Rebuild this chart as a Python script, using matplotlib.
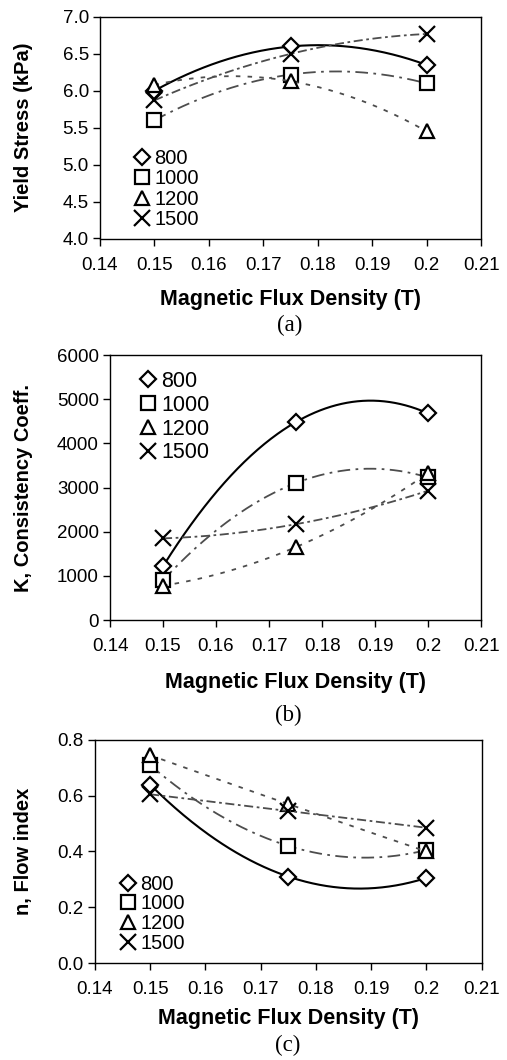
import numpy as np
import matplotlib
matplotlib.use("Agg")
import matplotlib.pyplot as plt
from matplotlib.lines import Line2D
from matplotlib.ticker import FuncFormatter, MultipleLocator

plt.rcParams['font.family'] = ['Liberation Sans', 'DejaVu Sans']

# magnetic flux density (T)
flux = [0.15, 0.175, 0.2]
series_names = ["800", "1000", "1200", "1500"]

# (a) yield stress (kPa)
yield_800 = [6.00, 6.60, 6.35]
yield_1000 = [5.60, 6.22, 6.10]
yield_1200 = [6.08, 6.13, 5.45]
yield_1500 = [5.87, 6.50, 6.77]

# (b) K, consistency coefficient
k_800 = [1220, 4480, 4680]
k_1000 = [900, 3100, 3230]
k_1200 = [780, 1650, 3330]
k_1500 = [1850, 2170, 2930]

# (c) n, flow index
n_800 = [0.64, 0.31, 0.305]
n_1000 = [0.71, 0.42, 0.405]
n_1200 = [0.745, 0.57, 0.40]
n_1500 = [0.605, 0.545, 0.485]

markers = ['D', 's', '^', 'x']
msizes = [8, 10, 10, 11]
lstyles = ['-', (0, (7, 3, 1.5, 3)), (0, (2.5, 4)), (0, (5, 2, 1.5, 2))]
lcolors = ['black', '0.3', '0.3', '0.3']
lwidths = [1.5, 1.3, 1.3, 1.3]


def draw_panel(ax, data, ylim, ystep, yfmt, ylabel, leg_pos, leg_size, leg_space,
               ylab_x, xlab_y):
    xs = np.linspace(flux[0], flux[-1], 200)
    for i, ys in enumerate(data):
        # excel style 2nd order polynomial trendline
        coef = np.polyfit(flux, ys, 2)
        ax.plot(xs, np.polyval(coef, xs), linestyle=lstyles[i], color=lcolors[i],
                lw=lwidths[i])
        ax.plot(flux, ys, linestyle='none', marker=markers[i], ms=msizes[i],
                mfc='white' if i < 3 else 'none', mec='black', mew=1.6)

    ax.set_xlim(0.14, 0.21)
    ax.set_ylim(*ylim)
    ax.xaxis.set_major_locator(MultipleLocator(0.01))
    ax.yaxis.set_major_locator(MultipleLocator(ystep))
    ax.xaxis.set_major_formatter(FuncFormatter(lambda v, p: f"{v:g}"))
    ax.yaxis.set_major_formatter(FuncFormatter(lambda v, p: yfmt.format(v)))
    ax.tick_params(direction='out', length=5, width=1, labelsize=13.5, pad=3)
    ax.tick_params(axis='x', pad=8)
    for s in ax.spines.values():
        s.set_linewidth(1.0)
    ax.set_xlabel("Magnetic Flux Density (T)", fontsize=15.5, fontweight='bold')
    ax.set_ylabel(ylabel, fontsize=14.5, fontweight='bold')
    ax.yaxis.set_label_coords(ylab_x, 0.5)
    ax.xaxis.set_label_coords(0.5, xlab_y)

    handles = [Line2D([], [], linestyle='none', marker=markers[i], ms=msizes[i],
                      mfc='none', mec='black', mew=1.6) for i in range(4)]
    ax.legend(handles, series_names, loc='upper left', bbox_to_anchor=leg_pos,
              frameon=False, fontsize=leg_size, handlelength=0.8,
              handletextpad=0.2, labelspacing=leg_space, borderpad=0,
              borderaxespad=0)


fig = plt.figure(figsize=(5.07, 10.6), dpi=100)

ax_a = fig.add_axes([0.197, 0.775, 0.752, 0.209])
draw_panel(ax_a, [yield_800, yield_1000, yield_1200, yield_1500], (4.0, 7.0), 0.5,
           "{:.1f}", "Yield Stress (kPa)", (0.09, 0.403), 14.5, 0.06, -0.176, -0.226)

ax_b = fig.add_axes([0.217, 0.415, 0.732, 0.250])
draw_panel(ax_b, [k_800, k_1000, k_1200, k_1500], (0, 6000), 1000,
           "{:.0f}", "K, Consistency Coeff.", (0.08, 0.94), 15.5, 0.13, -0.208, -0.196)

ax_c = fig.add_axes([0.187, 0.0915, 0.763, 0.2105])
draw_panel(ax_c, [n_800, n_1000, n_1200, n_1500], (0.0, 0.8), 0.2,
           "{:.1f}", "n, Flow index", (0.065, 0.395), 14.5, 0.03, -0.16, -0.202)

fig.text(0.572, 1 - 325 / 1060, "(a)", family='Liberation Serif', fontsize=16.5,
         ha='center', va='center')
fig.text(0.568, 1 - 715 / 1060, "(b)", family='Liberation Serif', fontsize=16.5,
         ha='center', va='center')
fig.text(0.568, 1 - 1045 / 1060, "(c)", family='Liberation Serif', fontsize=16.5,
         ha='center', va='center')

fig.savefig("out.png", dpi=100)
